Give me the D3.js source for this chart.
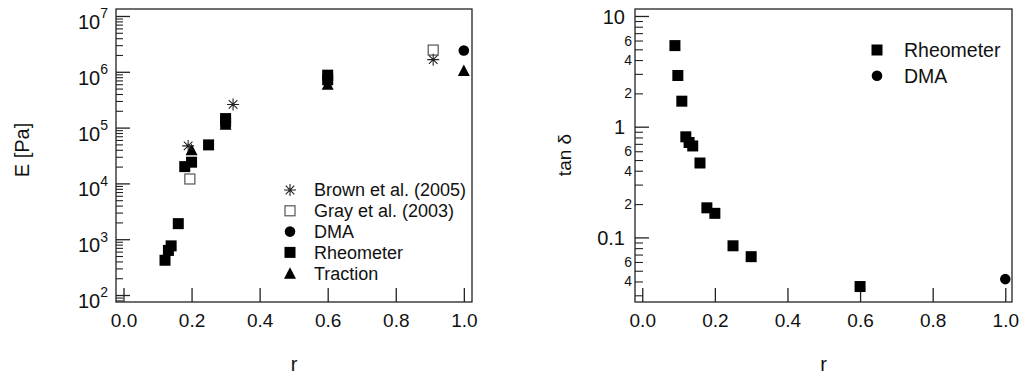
<!DOCTYPE html>
<html>
<head>
<meta charset="utf-8">
<script src="https://cdn.jsdelivr.net/npm/d3@7"></script>
<style>
  body { margin: 0; background: #fff; }
  svg { display: block; font-family: "Liberation Sans", Arial, sans-serif; }
</style>
</head>
<body>
<div id="chart"></div>
<script>
// left panel: modulus E [Pa] vs r
const rheoE = [[0.122, 420], [0.132, 630], [0.14, 760], [0.161, 1900], [0.18, 20000], [0.2, 24000],
               [0.25, 49000], [0.3, 145000], [0.3, 125000], [0.6, 870000], [0.6, 720000]];
const tractionE = [[0.2, 40000], [0.3, 115000], [0.6, 600000], [1.0, 1050000]];
const brownE = [[0.19, 47000], [0.322, 260000], [0.91, 1650000]];
const grayE = [[0.195, 12000], [0.91, 2450000]];
const dmaE = [[1.0, 2400000]];

// right panel: tan delta vs r
const rheoTan = [[0.09, 5.4], [0.098, 2.9], [0.109, 1.7], [0.12, 0.81], [0.129, 0.72], [0.139, 0.67],
                 [0.159, 0.47], [0.178, 0.185], [0.2, 0.165], [0.25, 0.084], [0.3, 0.067], [0.6, 0.036]];
const dmaTan = [[1.0, 0.042]];

const xTicks = [0, 0.2, 0.4, 0.6, 0.8, 1.0];
const leftMajor = [2, 3, 4, 5, 6, 7];           // exponents
const rightMajor = [10, 1, 0.1];
const rightMajorLabels = ["10", "1", "0.1"];

const leftLegend = ["Brown et al. (2005)", "Gray et al. (2003)", "DMA", "Rheometer", "Traction"];
const leftLegendSym = ["star", "open", "circle", "square", "triangle"];
const rightLegend = ["Rheometer", "DMA"];
const rightLegendSym = ["square", "circle"];

const width = 1020, height = 376;
const ink = "#222";

const svg = d3.select("#chart").append("svg")
    .attr("width", width)
    .attr("height", height);

// marker drawing
function marker(g, type, x, y) {
    if (type === "square") {
        g.append("rect").attr("x", x - 5.5).attr("y", y - 5.5).attr("width", 11).attr("height", 11)
            .attr("fill", "#000");
    } else if (type === "open") {
        g.append("rect").attr("x", x - 5).attr("y", y - 5).attr("width", 10).attr("height", 10)
            .attr("fill", "#fff").attr("stroke", "#555").attr("stroke-width", 1.2);
    } else if (type === "circle") {
        g.append("circle").attr("cx", x).attr("cy", y).attr("r", 5.3).attr("fill", "#000");
    } else if (type === "triangle") {
        g.append("path").attr("d", `M${x},${y - 6}L${x + 6},${y + 5.5}L${x - 6},${y + 5.5}Z`).attr("fill", "#000");
    } else if (type === "star") {
        const s = 6, d = 4.3;
        g.append("path")
            .attr("d", `M${x - s},${y}L${x + s},${y}M${x},${y - s}L${x},${y + s}` +
                `M${x - d},${y - d}L${x + d},${y + d}M${x - d},${y + d}L${x + d},${y - d}`)
            .attr("stroke", "#222").attr("stroke-width", 1.1).attr("fill", "none");
    }
}

function frame(x, y) {
    const [x0, x1] = x.range();
    const [y1, y0] = y.range();
    svg.append("rect")
        .attr("x", x0).attr("y", y0).attr("width", x1 - x0).attr("height", y1 - y0)
        .attr("fill", "none").attr("stroke", ink).attr("stroke-width", 1.3);
}

function xAxis(x, y) {
    const g = svg.append("g")
        .attr("transform", `translate(0,${y.range()[0]})`)
        .call(d3.axisBottom(x).tickValues(xTicks).tickSizeInner(-14).tickSizeOuter(0).tickPadding(12)
            .tickFormat(d3.format(".1f")));
    g.select(".domain").remove();
    g.selectAll(".tick line").attr("stroke", ink).attr("stroke-width", 1.3);
    g.selectAll(".tick text").attr("font-size", 19).attr("fill", "#111").attr("dy", "0.68em");
}

// ---------- left panel ----------
const xL = d3.scaleLinear().domain([-0.022, 1.024]).range([116, 472]);
const yL = d3.scaleLog().domain([Math.pow(10, 1.875), Math.pow(10, 7.125)]).range([302, 9]);

const leftMinor = [];
for (let e = 1; e <= 7; e++) for (let m = 2; m <= 9; m++) {
    const v = m * Math.pow(10, e);
    if (v > yL.domain()[0] && v < yL.domain()[1]) leftMinor.push(v);
}

svg.append("g").attr("transform", `translate(${xL.range()[0]},0)`)
    .call(d3.axisLeft(yL).tickValues(leftMinor).tickSizeInner(-7).tickSizeOuter(0).tickFormat(""))
    .call(g => g.select(".domain").remove())
    .call(g => g.selectAll(".tick line").attr("stroke", ink).attr("stroke-width", 1.1));

const yLg = svg.append("g").attr("transform", `translate(${xL.range()[0]},0)`)
    .call(d3.axisLeft(yL).tickValues(leftMajor.map(e => Math.pow(10, e))).tickSizeInner(-14).tickSizeOuter(0)
        .tickPadding(8).tickFormat(""));
yLg.select(".domain").remove();
yLg.selectAll(".tick line").attr("stroke", ink).attr("stroke-width", 1.3);
yLg.selectAll(".tick text")
    .attr("font-size", 20).attr("fill", "#111").attr("dy", "0.62em")
    .each(function (d) {
        const t = d3.select(this);
        t.append("tspan").text("10");
        t.append("tspan").attr("font-size", 14).attr("dy", "-0.75em").text(Math.round(Math.log10(d)));
    });

xAxis(xL, yL);
frame(xL, yL);

const marksL = svg.append("g");
rheoE.forEach(d => marker(marksL, "square", xL(d[0]), yL(d[1])));
tractionE.forEach(d => marker(marksL, "triangle", xL(d[0]), yL(d[1])));
dmaE.forEach(d => marker(marksL, "circle", xL(d[0]), yL(d[1])));
grayE.forEach(d => marker(marksL, "open", xL(d[0]), yL(d[1])));
brownE.forEach(d => marker(marksL, "star", xL(d[0]), yL(d[1])));

const legL = svg.append("g");
leftLegend.forEach((name, i) => {
    const ly = 190 + i * 20.8;
    marker(legL, leftLegendSym[i], 290, ly);
    legL.append("text").attr("x", 314).attr("y", ly).attr("dy", "0.36em")
        .attr("font-size", 18).attr("fill", "#111").text(name);
});

svg.append("text").attr("transform", "translate(29,150) rotate(-90)")
    .attr("text-anchor", "middle").attr("font-size", 20).attr("fill", "#111").text("E [Pa]");
svg.append("text").attr("x", d3.mean(xL.range())).attr("y", 371)
    .attr("text-anchor", "middle").attr("font-size", 20).attr("fill", "#111").text("r");

// ---------- right panel ----------
const xR = d3.scaleLinear().domain([-0.02, 1.0185]).range([635, 1012]);
const yR = d3.scaleLog().domain([0.0261, 11.56]).range([302, 9]);

const rightMinor = [];
for (let e = -2; e <= 0; e++) for (let m = 2; m <= 9; m++) {
    const v = m * Math.pow(10, e);
    if (v > yR.domain()[0] && v < yR.domain()[1]) rightMinor.push(v);
}
const mantissa = d => Math.round(d / Math.pow(10, Math.floor(Math.log10(d) + 1e-9)));

const yRm = svg.append("g").attr("transform", `translate(${xR.range()[0]},0)`)
    .call(d3.axisLeft(yR).tickValues(rightMinor).tickSizeInner(-8).tickSizeOuter(0).tickPadding(3)
        .tickFormat(d => [2, 4, 6].includes(mantissa(d)) ? String(mantissa(d)) : ""));
yRm.select(".domain").remove();
yRm.selectAll(".tick line").attr("stroke", ink).attr("stroke-width", 1.1);
yRm.selectAll(".tick text").attr("font-size", 14).attr("fill", "#111");

const yRg = svg.append("g").attr("transform", `translate(${xR.range()[0]},0)`)
    .call(d3.axisLeft(yR).tickValues(rightMajor).tickSizeInner(-14).tickSizeOuter(0).tickPadding(10)
        .tickFormat((d, i) => rightMajorLabels[i]));
yRg.select(".domain").remove();
yRg.selectAll(".tick line").attr("stroke", ink).attr("stroke-width", 1.3);
yRg.selectAll(".tick text").attr("font-size", 20).attr("fill", "#111").attr("dy", "0.36em");

xAxis(xR, yR);
frame(xR, yR);

const marksR = svg.append("g");
rheoTan.forEach(d => marker(marksR, "square", xR(d[0]), yR(d[1])));
dmaTan.forEach(d => marker(marksR, "circle", xR(d[0]), yR(d[1])));

const legR = svg.append("g");
rightLegend.forEach((name, i) => {
    const ly = 50 + i * 25.7;
    marker(legR, rightLegendSym[i], 877, ly);
    legR.append("text").attr("x", 904).attr("y", ly).attr("dy", "0.36em")
        .attr("font-size", 19.5).attr("fill", "#111").text(name);
});

svg.append("text").attr("transform", "translate(571,155) rotate(-90)")
    .attr("text-anchor", "middle").attr("font-size", 19).attr("fill", "#111").text("tan δ");
svg.append("text").attr("x", d3.mean(xR.range())).attr("y", 371)
    .attr("text-anchor", "middle").attr("font-size", 20).attr("fill", "#111").text("r");
</script>
</body>
</html>
